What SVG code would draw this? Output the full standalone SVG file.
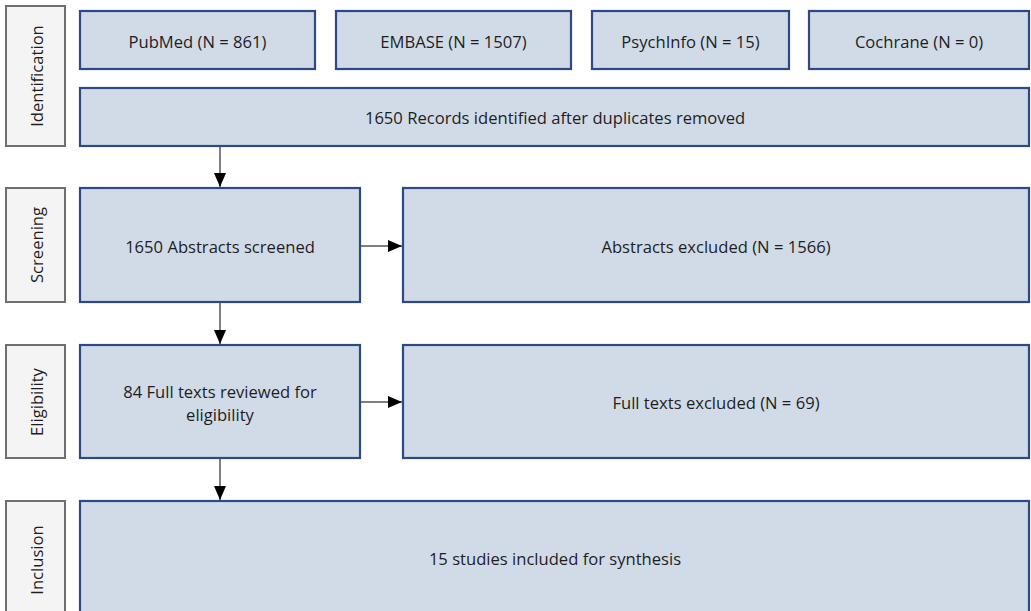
<svg xmlns="http://www.w3.org/2000/svg" width="1031" height="611" viewBox="0 0 1031 611">
<style>
.side{fill:#f4f4f4;stroke:#6f6f6f;stroke-width:2}
.box{fill:#d1dbe7;stroke:#2d4a86;stroke-width:2.2}
.t{font-family:"Open Sans","Liberation Sans",Arial,sans-serif;font-size:16.6px;fill:#1e1e1e;text-anchor:middle;dominant-baseline:central}
.c{stroke:#555;stroke-width:1.5;fill:none}
</style>
<defs>
<marker id="ah" markerWidth="14" markerHeight="12" refX="14" refY="6" orient="auto" markerUnits="userSpaceOnUse">
<path d="M0,0 L14,6 L0,12 Z" fill="#000"/>
</marker>
</defs>
<rect width="1031" height="611" fill="#fff"/>
<g id="lbl-identification"><rect class="side" x="6" y="6" width="59" height="140"/><text class="t" transform="translate(36,76) rotate(-90)">Identification</text></g>
<g id="lbl-screening"><rect class="side" x="6" y="188" width="59" height="114"/><text class="t" transform="translate(36,245) rotate(-90)">Screening</text></g>
<g id="lbl-eligibility"><rect class="side" x="6" y="345" width="59" height="113"/><text class="t" transform="translate(36,402) rotate(-90)">Eligibility</text></g>
<g id="lbl-inclusion"><rect class="side" x="6" y="501" width="59" height="120"/><text class="t" transform="translate(36,560) rotate(-90)">Inclusion</text></g>
<g id="pubmed"><rect class="box" x="80" y="11" width="235" height="58"/><text class="t" x="197.5" y="41">PubMed (N = 861)</text></g>
<g id="embase"><rect class="box" x="336" y="11" width="235" height="58"/><text class="t" x="453.5" y="41">EMBASE (N = 1507)</text></g>
<g id="psychinfo"><rect class="box" x="592" y="11" width="197" height="58"/><text class="t" x="690.5" y="41">PsychInfo (N = 15)</text></g>
<g id="cochrane"><rect class="box" x="809" y="11" width="220" height="58"/><text class="t" x="919" y="41">Cochrane (N = 0)</text></g>
<g id="records"><rect class="box" x="80" y="88" width="949" height="58"/><text class="t" x="555" y="117">1650 Records identified after duplicates removed</text></g>
<g id="abstracts"><rect class="box" x="80" y="188" width="280" height="114"/><text class="t" x="220" y="246">1650 Abstracts screened</text></g>
<g id="abstracts-excl"><rect class="box" x="403" y="188" width="626" height="114"/><text class="t" x="716" y="246">Abstracts excluded (N = 1566)</text></g>
<g id="fulltexts"><rect class="box" x="80" y="345" width="280" height="113"/><text class="t" x="220" y="391">84 Full texts reviewed for</text><text class="t" x="220" y="414">eligibility</text></g>
<g id="fulltexts-excl"><rect class="box" x="403" y="345" width="626" height="113"/><text class="t" x="716" y="402">Full texts excluded (N = 69)</text></g>
<g id="included"><rect class="box" x="80" y="501" width="949" height="120"/><text class="t" x="555" y="558">15 studies included for synthesis</text></g>
<g id="connectors">
<line class="c" x1="220" y1="147" x2="220" y2="187" marker-end="url(#ah)"/>
<line class="c" x1="361" y1="246" x2="402" y2="246" marker-end="url(#ah)"/>
<line class="c" x1="220" y1="303" x2="220" y2="344" marker-end="url(#ah)"/>
<line class="c" x1="361" y1="402" x2="402" y2="402" marker-end="url(#ah)"/>
<line class="c" x1="220" y1="459" x2="220" y2="500" marker-end="url(#ah)"/>
</g>
</svg>
